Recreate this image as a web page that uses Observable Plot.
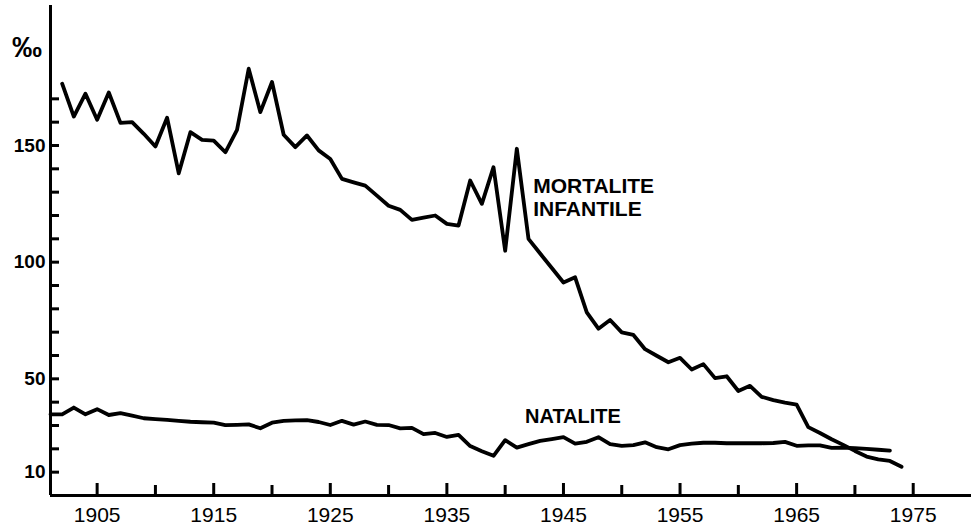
<!DOCTYPE html>
<html>
<head>
<meta charset="utf-8">
<script src="https://cdn.jsdelivr.net/npm/d3@7"></script>
<script src="https://cdn.jsdelivr.net/npm/@observablehq/plot@0.6"></script>
<style>
  html, body { margin: 0; padding: 0; background: #fff; }
  #chart svg { display: block; }
</style>
</head>
<body>
<div id="chart"></div>
<script>
// Infant mortality (‰), 1902–1974
const mortYears = d3.range(1902, 1975);
const mortValues = [
  176.5, 162.4, 172.2, 161.0, 172.7, 159.7, 160.0, 155.0, 149.6, 161.9,
  138.1, 155.7, 152.4, 152.1, 147.1, 156.7, 182.9, 164.3, 177.2, 154.6,
  149.3, 154.3, 147.9, 144.2, 135.7, 134.2, 132.8, 128.5, 124.2, 122.4,
  118.1, 119.1, 120.0, 116.4, 115.7, 135.0, 125.0, 140.7, 104.9, 148.6,
  110.0, 103.7, 97.5, 91.3, 93.5, 78.5, 71.5, 75.2, 69.9, 68.8,
  62.7, 59.9, 57.1, 59.0, 54.0, 56.3, 50.3, 51.1, 44.8, 47.0,
  42.3, 40.9, 39.8, 38.9, 29.3, 26.8, 24.1, 21.7, 19.1, 16.7,
  15.5, 14.8, 12.3
];

// Birth rate (‰), 1901–1973
const natYears = d3.range(1901, 1974);
const natValues = [
  34.8, 34.8, 37.7, 34.8, 37.0, 34.5, 35.3, 34.2, 33.1, 32.7,
  32.4, 32.0, 31.6, 31.4, 31.2, 30.2, 30.3, 30.5, 28.8, 31.2,
  32.0, 32.2, 32.3, 31.5, 30.2, 32.0, 30.4, 31.7, 30.3, 30.2,
  28.8, 29.0, 26.3, 26.8, 25.1, 26.0, 21.2, 19.0, 17.0, 23.7,
  20.5, 22.0, 23.4, 24.2, 25.0, 22.2, 23.0, 25.0, 22.0, 21.3,
  21.6, 22.8, 20.7, 19.8, 21.6, 22.2, 22.6, 22.6, 22.4, 22.4,
  22.4, 22.4, 22.5, 23.0, 21.3, 21.5, 21.5, 20.4, 20.5, 20.3,
  20.0, 19.6, 19.2
];

const xDomain = [1901, 1980];
const yDomain = [0, 210];
const xTickLabels = [1905, 1915, 1925, 1935, 1945, 1955, 1965, 1975];
const xTickMinor = [1910, 1920, 1930, 1940, 1950, 1960, 1970];
const yTickLabels = [10, 50, 100, 150];
const yTicks = d3.range(10, 171, 10);
const unitLabel = "‰";
const seriesLabels = [
  {text: "MORTALITE\nINFANTILE", year: 1942.4, value: 128},
  {text: "NATALITE", year: 1941.7, value: 33.7}
];

const mortality = mortYears.map((y, i) => ({year: y, value: mortValues[i]}));
const natality = natYears.map((y, i) => ({year: y, value: natValues[i]}));

const W = 971, H = 526;
const mL = 50, mR = 0, mT = 5, mB = 31;
const frameW = W - mL - mR;
const tickColor = "#000";

const chart = Plot.plot({
  width: W,
  height: H,
  marginLeft: mL,
  marginRight: mR,
  marginTop: mT,
  marginBottom: mB,
  style: {background: "#fff", overflow: "visible", fontFamily: "'Liberation Sans', Arial, sans-serif"},
  x: {domain: xDomain, axis: null},
  y: {domain: yDomain, axis: null},
  marks: [
    // axis lines
    Plot.ruleX([xDomain[0]], {stroke: "#000", strokeWidth: 3}),
    Plot.ruleY([0], {stroke: "#000", strokeWidth: 3}),
    // y ticks pointing inward (to the right of the axis)
    Plot.ruleY(yTicks, {y: d => d, stroke: tickColor, strokeWidth: 3, insetRight: frameW - 9}),
    // x ticks pointing upward
    Plot.tickX(xTickLabels, {x: d => d, stroke: tickColor, strokeWidth: 3, insetTop: H - mT - mB - 12}),
    Plot.tickX(xTickMinor, {x: d => d, stroke: tickColor, strokeWidth: 3, insetTop: H - mT - mB - 10}),
    // tick labels
    Plot.text(yTickLabels, {y: d => d, text: d => String(d), frameAnchor: "left", dx: -5, textAnchor: "end",
      lineAnchor: "middle", fontSize: 19, fontWeight: "bold", fill: "#000", letterSpacing: "1.5px"}),
    Plot.text(xTickLabels, {x: d => d, text: d => String(d), frameAnchor: "bottom", dy: 20,
      lineAnchor: "middle", fontSize: 21, fill: "#000", letterSpacing: "1px"}),
    Plot.text([unitLabel], {text: d => d, frameAnchor: "top-left", dx: -23.5, dy: 42,
      textAnchor: "middle", lineAnchor: "middle", fontSize: 30, fontWeight: "bold", fill: "#000"}),
    // series
    Plot.line(mortality, {x: "year", y: "value", stroke: "#000", strokeWidth: 3.8, strokeLinejoin: "round"}),
    Plot.line(natality, {x: "year", y: "value", stroke: "#000", strokeWidth: 3.8, strokeLinejoin: "round"}),
    // series labels
    Plot.text(seriesLabels.slice(0, 1), {x: "year", y: "value", text: "text", textAnchor: "start",
      fontSize: 21, fontWeight: "bold", fill: "#000", lineHeight: 1.1, letterSpacing: "0.8px"}),
    Plot.text(seriesLabels.slice(1), {x: "year", y: "value", text: "text", textAnchor: "start",
      fontSize: 20, fontWeight: "bold", fill: "#000", letterSpacing: "1px"})
  ]
});

document.getElementById("chart").appendChild(chart);
</script>
</body>
</html>
